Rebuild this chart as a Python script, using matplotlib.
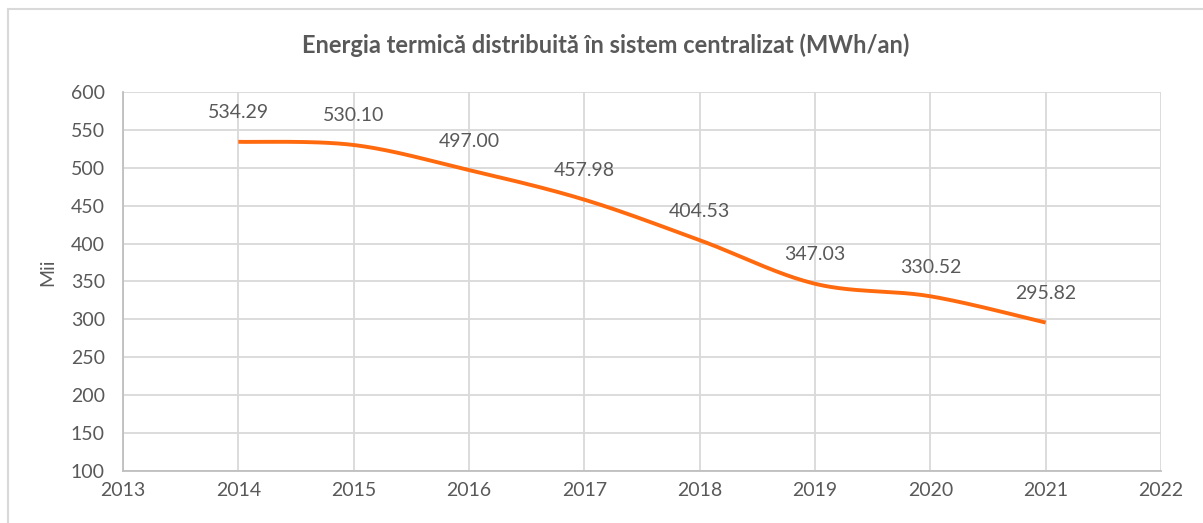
import numpy as np
import matplotlib
matplotlib.use("Agg")
import matplotlib.pyplot as plt
from matplotlib.patches import Rectangle

years = [2014, 2015, 2016, 2017, 2018, 2019, 2020, 2021]
values = [534.29, 530.10, 497.00, 457.98, 404.53, 347.03, 330.52, 295.82]
labels = ["534.29", "530.10", "497.00", "457.98", "404.53", "347.03", "330.52", "295.82"]
x_ticks = list(range(2013, 2023))
y_ticks = list(range(100, 601, 50))
title = "Energia termică distribuită în sistem centralizat (MWh/an)"
ylabel = "Mii"

plt.rcParams['font.family'] = ['Lato', 'DejaVu Sans']
TXT = "#595959"
GRID = "#D9D9D9"
ORANGE = "#FF6A0F"

W, H = 1203, 523
fig = plt.figure(figsize=(W / 100, H / 100), dpi=100)
fig.patch.set_facecolor("white")

# chart border (cropped at right / bottom)
fig.add_artist(Rectangle((8 / W, -0.1), 1.2, 1 - 9 / H + 0.1, transform=fig.transFigure,
                         fill=False, edgecolor=GRID, linewidth=1.5))

left, right, top, bottom = 123 / W, 1161 / W, 1 - 92 / H, 1 - 471 / H
ax = fig.add_axes([left, bottom, right - left, top - bottom])
ax.set_xlim(2013, 2022)
ax.set_ylim(100, 600)
ax.set_xticks(x_ticks)
ax.set_yticks(y_ticks)
ax.grid(True, color=GRID, linewidth=1.3)
ax.set_axisbelow(True)
for s in ["top", "right"]:
    ax.spines[s].set_visible(False)
for s in ["left", "bottom"]:
    ax.spines[s].set_color("#BFBFBF")
    ax.spines[s].set_linewidth(1.3)
ax.tick_params(axis="both", length=0, labelsize=14, labelcolor=TXT, pad=8)
ax.tick_params(axis="y", pad=13)

# Excel-like smoothed line (Bezier with Catmull-Rom control points)
xs = np.array(years, dtype=float)
ys = np.array(values, dtype=float)
px, py = [], []
n = len(xs)
t = np.linspace(0, 1, 40)
for i in range(n - 1):
    p0 = np.array([xs[max(i - 1, 0)], ys[max(i - 1, 0)]])
    p1 = np.array([xs[i], ys[i]])
    p2 = np.array([xs[i + 1], ys[i + 1]])
    p3 = np.array([xs[min(i + 2, n - 1)], ys[min(i + 2, n - 1)]])
    c1 = p1 + (p2 - p0) / 6
    c2 = p2 - (p3 - p1) / 6
    b = ((1 - t) ** 3)[:, None] * p1 + (3 * (1 - t) ** 2 * t)[:, None] * c1 + \
        (3 * (1 - t) * t ** 2)[:, None] * c2 + (t ** 3)[:, None] * p2
    px.extend(b[:, 0]); py.extend(b[:, 1])
ax.plot(px, py, color=ORANGE, linewidth=2.8, solid_capstyle="butt", clip_on=False)

for xv, yv, lab in zip(years, values, labels):
    ax.annotate(lab, (xv, yv), xytext=(0, 29), textcoords="offset pixels",
                ha="center", va="center", fontsize=14, color=TXT)

fig.text(606 / W, 1 - 45 / H, title, ha="center", va="center",
         fontsize=17, fontweight="bold", color=TXT)
fig.text(48 / W, 1 - 272 / H, ylabel, rotation=90, ha="center", va="center",
         fontsize=14, color=TXT)

fig.savefig("out.png", dpi=100)
